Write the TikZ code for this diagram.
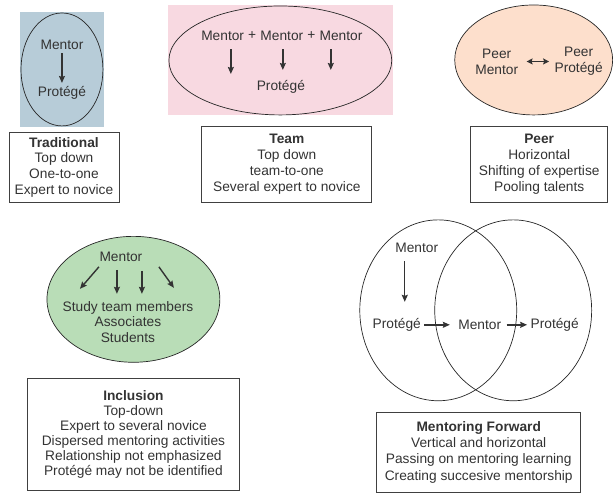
\documentclass[tikz,border=0pt]{standalone}
\usepackage{fontspec}
\setmainfont{Liberation Sans}
\usetikzlibrary{arrows.meta, positioning}
\definecolor{tradblue}{HTML}{B7CCD8}
\definecolor{teampink}{HTML}{F8D9E1}
\definecolor{peerpeach}{HTML}{FDDFCC}
\definecolor{inclgreen}{HTML}{B9DDB7}
\definecolor{ink}{HTML}{333333}
\begin{document}
\begin{tikzpicture}[x=1in,y=1in,
  every node/.style={text=ink, font=\fontsize{13.8}{16}\selectfont},
  oval/.style={line width=0.7pt, draw=black!85},
  word/.style={inner xsep=0pt},
  infobox/.style={draw=black!75, line width=0.8pt, align=center, inner sep=0pt},
  arr/.style={-{Stealth[length=7pt,width=6pt,inset=1pt]}, line width=1.4pt, ink},
  twoarr/.style={{Stealth[length=6pt,width=6pt,inset=1pt]}-{Stealth[length=6pt,width=6pt,inset=1pt]}, line width=1.4pt, ink}]
\path (0,0) -- (8.5139,6.7500);
% traditional
\fill[tradblue] (0.2778,4.9861) rectangle (1.4444,6.5833);
\draw[oval] (0.8611,5.7847) ellipse (0.5694 and 0.7847);
\node (tm) at (0.8611,6.1250) {Mentor};
\node (tp) at (0.8611,5.4583) {Protégé};
\draw[arr] (tm) -- (tp);
\node[infobox, minimum width=1.5278in, minimum height=0.9861in] (tbox) at (0.8889,4.4236) {\textbf{Traditional}\\Top down\\One-to-one\\Expert to novice};
% team
\fill[teampink] (2.3333,5.1528) rectangle (5.4583,6.6806);
\draw[oval] (3.8958,5.9097) ellipse (1.5486 and 0.7569);
\node[word] (m2) at (3.9167,6.2500) {Mentor};
\node[word, left=3.8bp of m2] (plusa) {+};
\node[word, left=3.8bp of plusa] (m1) {Mentor};
\node[word, right=3.8bp of m2] (plusb) {+};
\node[word, right=3.8bp of plusb] (m3) {Mentor};
\node (tp2) at (3.9028,5.5417) {Protégé};
\coordinate (t1) at (3.2083,5.7222);
\coordinate (t2) at (3.9306,5.7778);
\coordinate (t3) at (4.5972,5.7778);
\draw[arr, shorten <=5bp] (t1 |- m1.south) -- (t1);
\draw[arr, shorten <=5bp] (t2 |- m2.south) -- (t2);
\draw[arr, shorten <=5bp] (t3 |- m3.south) -- (t3);
\node[infobox, minimum width=2.3611in, minimum height=1.0694in] (teambox) at (3.9861,4.4653) {\textbf{Team}\\Top down\\team-to-one\\Several expert to novice};
% peer
\draw[oval, fill=peerpeach] (7.4167,5.9167) ellipse (1.0972 and 0.7639);
\node[align=center] (pm) at (6.9028,5.8958) {Peer\\Mentor};
\node[align=center] (pp) at (8.0417,5.8958) {Peer\\Protégé};
\draw[twoarr, shorten <=5bp, shorten >=2bp] (pm) -- (pp);
\node[infobox, minimum width=1.9028in, minimum height=1.0694in] (pbox) at (7.4931,4.4653) {\textbf{Peer}\\Horizontal\\Shifting of expertise\\Pooling talents};
% inclusion
\draw[oval, fill=inclgreen] (1.8542,2.5903) ellipse (1.2014 and 0.8750);
\node (im) at (1.6806,3.1806) {Mentor};
\node[align=center, font=\fontsize{13.8}{15.5}\selectfont] (imem) at (1.7778,2.2778) {Study team members\\Associates\\Students};
\coordinate (ia1) at (1.3750,3.0417);
\coordinate (ib1) at (1.1111,2.7361);
\coordinate (ia2) at (1.6250,3.0000);
\coordinate (ib2) at (1.6250,2.6667);
\coordinate (ia3) at (1.9722,2.9861);
\coordinate (ib3) at (1.9722,2.6667);
\coordinate (ia4) at (2.2083,3.0417);
\coordinate (ib4) at (2.4167,2.7500);
\draw[arr] (ia1) -- (ib1);
\draw[arr] (ia2) -- (ib2);
\draw[arr] (ia3) -- (ib3);
\draw[arr] (ia4) -- (ib4);
\node[infobox, anchor=north, minimum width=2.9583in, minimum height=1.5556in, font=\fontsize{13.8}{15}\selectfont] (ibox) at (1.8542,1.5000) {\textbf{Inclusion}\\Top-down\\Expert to several novice\\Dispersed mentoring activities\\Relationship not emphasized\\Protégé may not be identified};
% mentoring forward
\draw[oval] (6.0903,2.4375) ellipse (1.0903 and 1.2569);
\draw[oval] (7.1319,2.4375) ellipse (1.0903 and 1.2569);
\node (fm) at (5.7917,3.3056) {Mentor};
\node (fp) at (5.5139,2.2361) {Protégé};
\node (fmm) at (6.6667,2.2361) {Mentor};
\node (fpp) at (7.7083,2.2361) {Protégé};
\coordinate (fd) at (5.6250,2.5556);
\draw[arr, shorten <=5bp] (fd |- fm.south) -- (fd);
\draw[arr, shorten >=5bp] (fp) -- (fmm);
\draw[arr, shorten <=2bp] (fmm) -- (fpp);
\node[infobox, anchor=north, minimum width=2.8333in, minimum height=1.1111in, font=\fontsize{13.8}{16.5}\selectfont] (fbox) at (6.6528,1.0278) {\textbf{Mentoring Forward}\\Vertical and horizontal\\Passing on mentoring learning\\Creating succesive mentorship};
\end{tikzpicture}
\end{document}
